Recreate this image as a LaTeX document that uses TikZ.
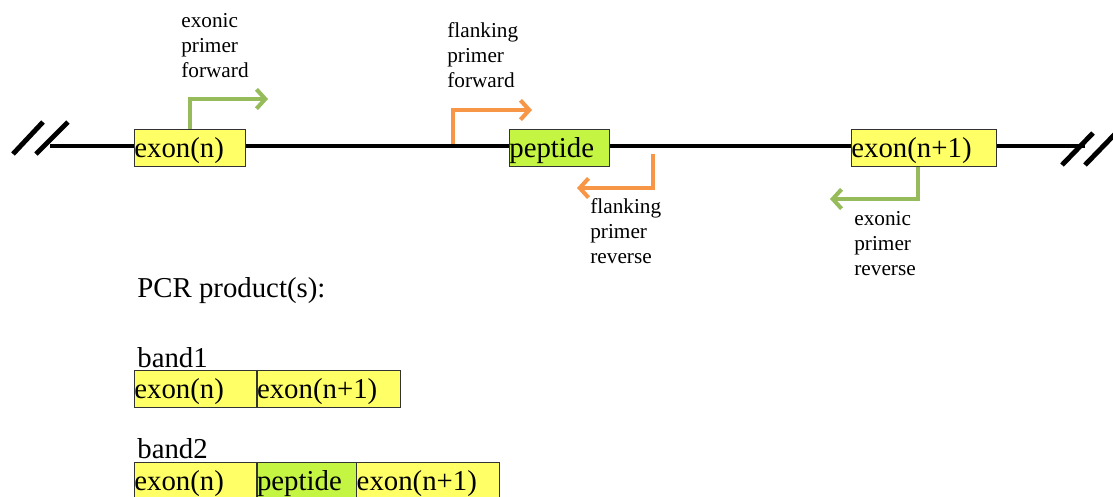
\documentclass[tikz,border=0pt]{standalone}
\usepackage{fontspec}
\setmainfont{Liberation Serif}
\usetikzlibrary{arrows.meta}
\definecolor{exonyellow}{RGB}{255,255,102}
\definecolor{peptidegreen}{RGB}{196,245,66}
\definecolor{primergreen}{RGB}{150,187,90}
\definecolor{primerorange}{RGB}{247,150,70}
\begin{document}
\begin{tikzpicture}[x=0.02cm, y=-0.02cm,
    segment/.style ={draw=black!80, thin, anchor=north west, inner xsep=0pt, inner ysep=0pt, minimum height=0.74cm, text height=0.56cm, text depth=0.18cm, font=\fontsize{16.4}{19}\selectfont, align=left},
    exonbox/.style ={segment, fill=exonyellow},
    peptidebox/.style ={segment, fill=peptidegreen},
    primer/.style ={line width=2.3pt, -{Straight Barb[length=5pt,width=11pt]}},
    primerlabel/.style ={anchor=north west, inner sep=0pt, align=left, font=\fontsize{12.1}{14.3}\selectfont},
    biglabel/.style ={anchor=base west, inner sep=0pt, font=\fontsize{16.4}{19}\selectfont}]
   \useasboundingbox (0,0) rectangle (1113,497);
   \coordinate (lstart) at (50,146);
   \coordinate (lend) at (1085,146);
   \draw[line width=2.8pt] (lstart) -- (lend);
   \draw[line width=2.8pt] (13,154) -- (43,122) (36,154) -- (68,122);
   \draw[line width=2.8pt] (1062,165) -- (1093,133) (1085,165) -- (1116,133);
   \node[exonbox, text width=2.22cm] (exn) at (134,129) {exon(n)};
   \node[peptidebox, text width=2.0cm] (pep) at (509,129) {peptide};
   \node[exonbox, text width=2.9cm] (exn1) at (851,129) {exon(n+1)};
   \coordinate (efwd) at (268,99);
   \coordinate (ffwdstart) at (453,144);
   \coordinate (ffwd) at (532,110);
   \coordinate (frevstart) at (653,154);
   \coordinate (frev) at (577,188);
   \coordinate (erev) at (830,199);
   \draw[primer, primergreen] (exn.north) |- (efwd);
   \draw[primer, primerorange] (ffwdstart) |- (ffwd);
   \draw[primer, primerorange] (frevstart) |- (frev);
   \draw[primer, primergreen] ([xshift=-0.11cm]exn1.south) |- (erev);
   \node[primerlabel] (efwdlabel) at (181,13) {exonic\\primer\\forward};
   \node[primerlabel] (ffwdlabel) at (447,22) {flanking\\primer\\forward};
   \node[primerlabel] (frevlabel) at (590,198) {flanking\\primer\\reverse};
   \node[primerlabel] (erevlabel) at (854,211) {exonic\\primer\\reverse};
   \node[biglabel] (pcr) at (137,297) {PCR product(s):};
   \node[biglabel] (band1) at (137,367) {band1};
   \node[exonbox, text width=2.44cm] (b1exn) at (134,370) {exon(n)};
   \node[exonbox, text width=2.86cm] (b1exn1) at (b1exn.north east) {exon(n+1)};
   \node[biglabel] (band2) at (137,458) {band2};
   \node[exonbox, text width=2.44cm] (b2exn) at (134,462) {exon(n)};
   \node[peptidebox, text width=1.98cm] (b2pep) at (b2exn.north east) {peptide};
   \node[exonbox, text width=2.86cm] (b2exn1) at (b2pep.north east) {exon(n+1)};
\end{tikzpicture}
\end{document}
